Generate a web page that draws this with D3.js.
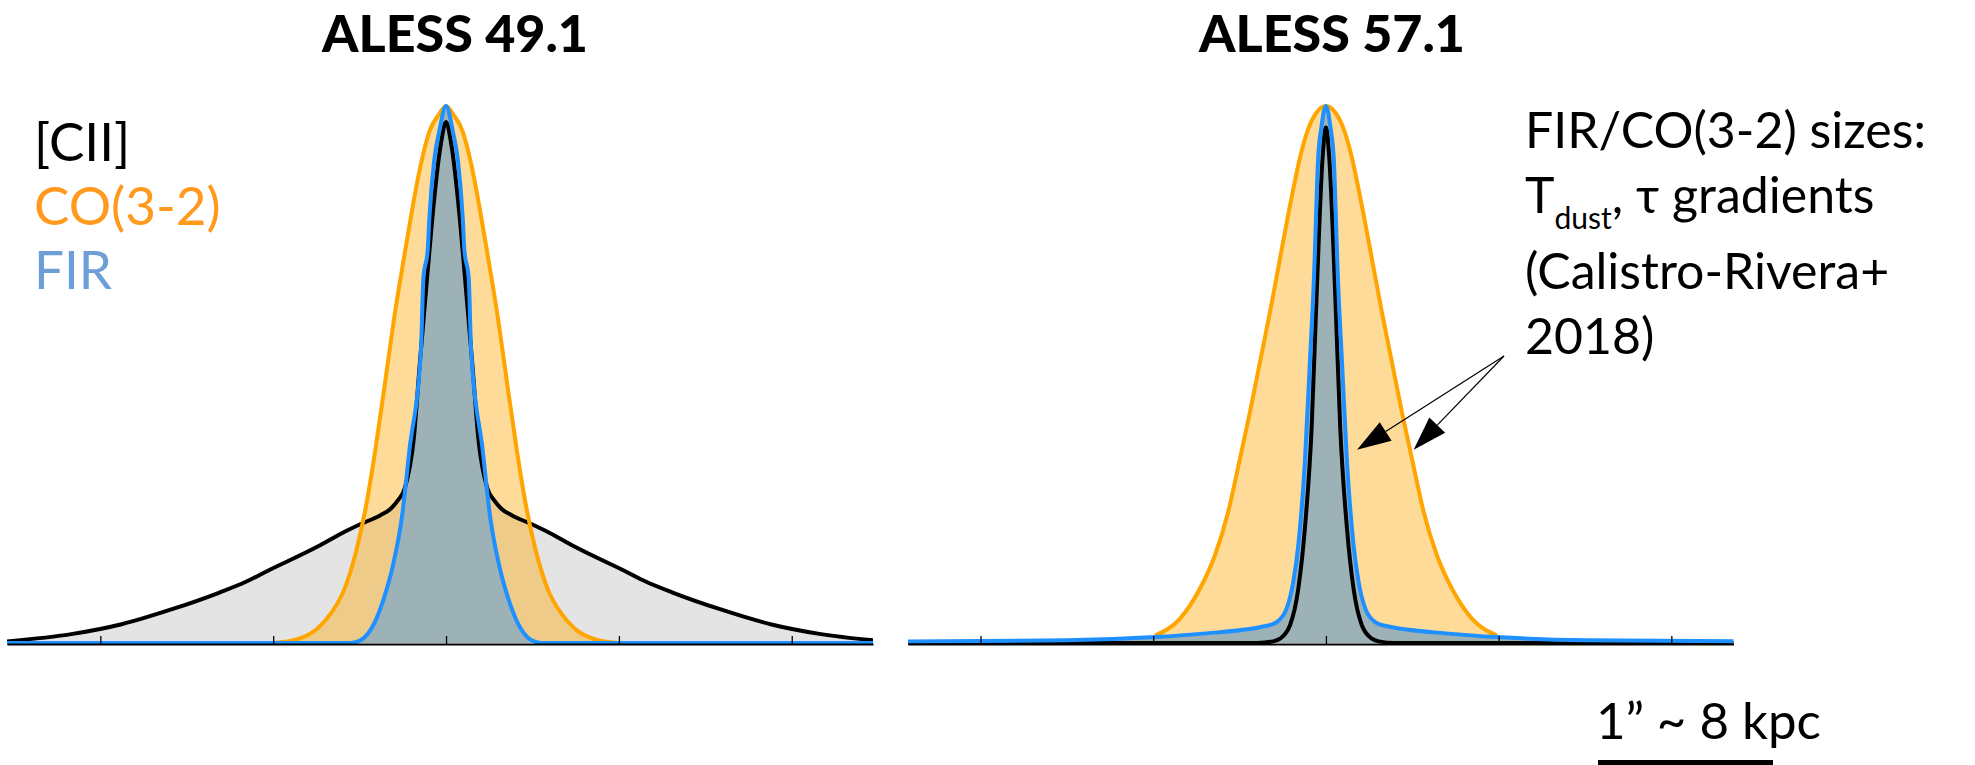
<!DOCTYPE html>
<html>
<head>
<meta charset="utf-8">
<script src="https://cdn.jsdelivr.net/npm/d3@7"></script>
<style>
  body { margin: 0; background: #fff; }
  svg { display: block; }
  text { font-family: Lato, "Open Sans", "DejaVu Sans", sans-serif; }
</style>
</head>
<body>
<svg id="chart" width="1975" height="765"></svg>
<script>
// Radial profiles, radius in arcsec, brightness normalised to peak = 1
// ALESS 49.1
const ciiR49 = [0, 0.032, 0.08, 0.117, 0.153, 0.187, 0.238, 0.28, 0.32, 0.38, 0.49, 0.6, 0.74, 1.028, 1.158, 1.311, 1.594, 1.877, 2.16, 2.54];
const ciiV49 = [0.97, 0.925, 0.789, 0.652, 0.516, 0.38, 0.289, 0.265, 0.25, 0.238, 0.222, 0.205, 0.18, 0.135, 0.114, 0.094, 0.062, 0.035, 0.017, 0.003];
const coR49  = [0, 0.04, 0.097, 0.148, 0.196, 0.244, 0.295, 0.351, 0.408, 0.464, 0.52, 0.591, 0.662, 0.747, 0.86, 1.0];
const coV49  = [1.0, 0.985, 0.952, 0.888, 0.807, 0.716, 0.616, 0.489, 0.362, 0.253, 0.171, 0.098, 0.057, 0.026, 0.007, 0];
const firR49 = [0, 0.04, 0.069, 0.097, 0.106, 0.131, 0.145, 0.212, 0.255, 0.309, 0.363, 0.415, 0.49, 0.55, 2.54];
const firV49 = [1.0, 0.952, 0.898, 0.789, 0.732, 0.68, 0.546, 0.359, 0.235, 0.142, 0.08, 0.037, 0.006, 0, 0];

// ALESS 57.1
const ciiR57 = [0, 0.02, 0.054, 0.083, 0.122, 0.16, 0.208, 0.266, 0.305, 0.4, 2.42];
const ciiV57 = [0.96, 0.9, 0.647, 0.399, 0.213, 0.101, 0.033, 0.008, 0.003, 0, 0];
const coR57  = [0, 0.054, 0.103, 0.148, 0.196, 0.27, 0.324, 0.382, 0.44, 0.502, 0.566, 0.643, 0.73, 0.846, 0.99];
const coV57  = [1.0, 0.988, 0.957, 0.907, 0.834, 0.709, 0.616, 0.523, 0.43, 0.337, 0.244, 0.163, 0.101, 0.045, 0.014];
const firR57 = [0, 0.026, 0.046, 0.058, 0.066, 0.093, 0.122, 0.16, 0.189, 0.228, 0.285, 0.343, 0.73, 0.99, 1.5, 2.42];
const firV57 = [1.0, 0.961, 0.898, 0.789, 0.709, 0.523, 0.337, 0.182, 0.114, 0.064, 0.039, 0.032, 0.017, 0.011, 0.005, 0.003];

const titles = ["ALESS 49.1", "ALESS 57.1"];
const tickVals = [-2, -1, 0, 1, 2];
const legendLabels = ["[CII]", "CO(3-2)", "FIR"];
const legendColors = ["#000000", "#ff9a1f", "#6d9fd6"];

const svg = d3.select("#chart");

// mirror a half profile around r = 0
const mirror = (rs, vs) => {
    const right = rs.map((r, i) => [r, vs[i]]);
    const left = right.slice(1).map(d => [-d[0], d[1]]).reverse();
    return left.concat(right);
};

const y = d3.scaleLinear().domain([0, 1]).range([643, 106]);

const panels = [
    { title: titles[0], domain: [-2.54, 2.47], range: [7, 873], titleX: 455,
      cii: mirror(ciiR49, ciiV49), co: mirror(coR49, coV49), fir: mirror(firR49, firV49) },
    { title: titles[1], domain: [-2.42, 2.36], range: [908, 1733.5], titleX: 1332,
      cii: mirror(ciiR57, ciiV57), co: mirror(coR57, coV57), fir: mirror(firR57, firV57) }
];

panels.forEach((p, k) => {
    const x = d3.scaleLinear().domain(p.domain).range(p.range);

    svg.append("clipPath").attr("id", "clip" + k)
        .append("rect")
        .attr("x", p.range[0]).attr("y", 0)
        .attr("width", p.range[1] - p.range[0]).attr("height", 765);

    const g = svg.append("g");
    const plot = g.append("g").attr("clip-path", `url(#clip${k})`);

    const area = d3.area().x(d => x(d[0])).y0(y(0)).y1(d => y(d[1])).curve(d3.curveMonotoneX);
    const line = d3.line().x(d => x(d[0])).y(d => y(d[1])).curve(d3.curveMonotoneX);

    // fills
    plot.append("path").attr("d", area(p.cii)).attr("fill", "#e4e4e4");
    plot.append("path").attr("d", area(p.co)).attr("fill", "#ffa500").attr("fill-opacity", 0.4);
    plot.append("path").attr("d", area(p.fir)).attr("fill", "#9db2b7");

    // axis with small inner ticks
    const axis = g.append("g")
        .attr("transform", `translate(0,${y(0) + 1})`)
        .call(d3.axisBottom(x).tickValues(tickVals).tickSizeInner(-8).tickSizeOuter(0).tickFormat(""));
    axis.select(".domain").attr("stroke", "#000").attr("stroke-width", 2);
    axis.selectAll(".tick line").attr("stroke", "#000").attr("stroke-width", 1.3);

    // outlines
    plot.append("path").attr("d", line(p.cii)).attr("fill", "none")
        .attr("stroke", "#000").attr("stroke-width", 4).attr("stroke-linejoin", "round");
    plot.append("path").attr("d", line(p.co)).attr("fill", "none")
        .attr("stroke", "#ffa500").attr("stroke-width", 4).attr("stroke-linejoin", "round");
    plot.append("path").attr("d", line(p.fir)).attr("fill", "none")
        .attr("stroke", "#1e90ff").attr("stroke-width", 4).attr("stroke-linejoin", "round");

    svg.append("text")
        .attr("x", p.titleX).attr("y", 52)
        .attr("text-anchor", "middle")
        .attr("font-size", "52px")
        .attr("font-weight", 900)
        .text(p.title);

    p.x = x;
});

// legend
svg.selectAll(".legend")
    .data(legendLabels)
    .enter().append("text")
    .attr("class", "legend")
    .attr("x", 34)
    .attr("y", (d, i) => 161 + i * 64)
    .attr("font-size", "53px")
    .attr("fill", (d, i) => legendColors[i])
    .text(d => d);

// annotation
const note = svg.append("text").attr("font-size", "50px").attr("fill", "#000");
note.append("tspan").attr("x", 1525).attr("y", 148).text("FIR/CO(3-2) sizes:");
note.append("tspan").attr("x", 1525).attr("y", 213).text("T");
note.append("tspan").attr("dy", 16).attr("font-size", "30px").text("dust");
note.append("tspan").attr("dy", -16).text(", τ gradients");
note.append("tspan").attr("x", 1525).attr("y", 289).text("(Calistro-Rivera+");
note.append("tspan").attr("x", 1525).attr("y", 354).text("2018)");

// arrows to the FIR and CO(3-2) edges of ALESS 57.1
const xr = panels[1].x;
const arrowTargets = [[0.18, 0.36], [0.508, 0.36]];
const start = [1504, 356];
arrowTargets.forEach(t => {
    const tx = xr(t[0]), ty = y(t[1]);
    const ang = Math.atan2(ty - start[1], tx - start[0]);
    const len = 34, half = 11;
    const bx = tx - len * Math.cos(ang), by = ty - len * Math.sin(ang);
    svg.append("line")
        .attr("x1", start[0]).attr("y1", start[1])
        .attr("x2", bx).attr("y2", by)
        .attr("stroke", "#000").attr("stroke-width", 1.2);
    const px = -Math.sin(ang) * half, py = Math.cos(ang) * half;
    svg.append("path")
        .attr("d", `M${tx},${ty}L${bx + px},${by + py}L${bx - px},${by - py}Z`)
        .attr("fill", "#000");
});

// scale bar
svg.append("text")
    .attr("x", 1596).attr("y", 739)
    .attr("font-size", "51px")
    .text("1” ~ 8 kpc");
svg.append("rect")
    .attr("x", 1598).attr("y", 760)
    .attr("width", 175).attr("height", 5.5)
    .attr("fill", "#000");
</script>
</body>
</html>
